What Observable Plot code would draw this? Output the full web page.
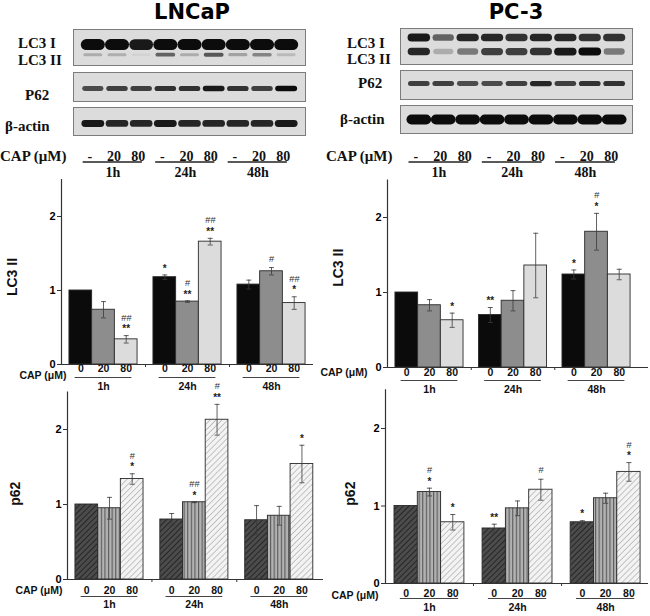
<!DOCTYPE html>
<html><head><meta charset="utf-8">
<script src="https://cdn.jsdelivr.net/npm/d3@7"></script>
<script src="https://cdn.jsdelivr.net/npm/@observablehq/plot@0.6"></script>
<style>
body{margin:0;background:#fff;}
#root{position:relative;width:650px;height:616px;overflow:hidden;background:#fff;}
.lab{position:absolute;white-space:nowrap;transform:translateY(-50%);line-height:1;}
.title{font-family:"DejaVu Sans",Verdana,sans-serif;font-weight:bold;font-size:21px;transform:translate(-50%,-50%);}
.blab{font-family:"Liberation Serif","Times New Roman",serif;font-weight:bold;font-size:15px;color:#111;}
</style></head><body><div id="root"></div>
<script>
// ---------- data ----------
const times = ["1h", "24h", "48h"];
const doses = ["0", "20", "80"];
const blotDoses = ["-", "20", "80"];
const yTicks = [0, 1, 2];

// LNCaP LC3 II (relative)
const lncapLC3Mean = [[1.00, 0.74, 0.34], [1.18, 0.85, 1.66], [1.08, 1.26, 0.83]];
const lncapLC3Err  = [[0, 0.11, 0.05], [0.03, 0.01, 0.045], [0.06, 0.05, 0.085]];
const lncapLC3Star = [["", "", "**"], ["*", "**", "**"], ["", "", "*"]];
const lncapLC3Hash = [["", "", "##"], ["", "#", "##"], ["", "#", "##"]];

// PC-3 LC3 II
const pc3LC3Mean = [[1.00, 0.83, 0.63], [0.70, 0.89, 1.36], [1.24, 1.81, 1.24]];
const pc3LC3Err  = [[0, 0.075, 0.095], [0.10, 0.135, 0.43], [0.06, 0.245, 0.07]];
const pc3LC3Star = [["", "", "*"], ["**", "", ""], ["*", "*", ""]];
const pc3LC3Hash = [["", "", ""], ["", "", ""], ["", "#", ""]];

// LNCaP p62
const lncapP62Mean = [[1.00, 0.95, 1.34], [0.80, 1.03, 2.13], [0.79, 0.85, 1.54]];
const lncapP62Err  = [[0, 0.145, 0.07], [0.08, 0.005, 0.205], [0.195, 0.125, 0.25]];
const lncapP62Star = [["", "", "*"], ["", "*", "**"], ["", "", "*"]];
const lncapP62Hash = [["", "", "#"], ["", "##", "#"], ["", "", ""]];

// PC-3 p62
const pc3P62Mean = [[1.00, 1.18, 0.79], [0.71, 0.97, 1.21], [0.79, 1.10, 1.44]];
const pc3P62Err  = [[0, 0.05, 0.10], [0.055, 0.095, 0.135], [0.02, 0.065, 0.12]];
const pc3P62Star = [["", "*", "*"], ["**", "", ""], ["*", "", "*"]];
const pc3P62Hash = [["", "#", ""], ["", "", "#"], ["", "", "#"]];

// Western blot band intensities (9 lanes: 1h -,20,80 | 24h | 48h)
const lncapLC3I  = [1, 1, 0.95, 1, 1, 1, 1, 1, 1];
const lncapLC3II = [0.3, 0.28, 0.05, 0.65, 0.3, 0.7, 0.35, 0.5, 0.22];
const lncapP62   = [0.75, 0.8, 0.8, 0.85, 0.85, 0.95, 0.85, 0.8, 1.0];
const lncapActin = [0.95, 0.9, 0.9, 0.95, 0.9, 0.9, 0.9, 0.9, 0.95];
const pc3LC3I    = [0.95, 0.65, 0.9, 0.9, 0.85, 0.9, 0.9, 0.85, 0.85];
const pc3LC3II   = [0.9, 0.3, 0.55, 0.8, 0.8, 0.85, 0.95, 1.0, 0.55];
const pc3P62     = [0.8, 0.8, 0.75, 0.75, 0.8, 0.9, 0.8, 0.85, 0.85];
const pc3Actin   = [1, 1, 1, 1, 1, 1, 1, 1, 1];

// ---------- helpers ----------
const root = document.getElementById("root");
function place(el, left, top) {
  el.style.position = "absolute";
  el.style.left = left + "px";
  el.style.top = top + "px";
  root.appendChild(el);
}
function label(text, x, y, cls) {
  const d = document.createElement("div");
  d.className = "lab " + cls;
  d.textContent = text;
  d.style.left = x + "px";
  d.style.top = y + "px";
  root.appendChild(d);
}
const shadeBase = d3.interpolateRgb("#d6d6d6", "#0c0c0c");
const shade = v => shadeBase(Math.pow(v, 1.3));

function blotBox(left, top, w, h, xDomain, bands) {
  const data = bands.flatMap(b => b.vals.map((v, i) => ({lane: i + 1, y: b.pos, v, t: b.thick * (0.55 + 0.45 * v), half: b.half})));
  const svg = Plot.plot({
    width: w, height: h, margin: 0,
    style: {background: "transparent", overflow: "visible"},
    x: {domain: xDomain, axis: null},
    y: {domain: [0, 1], range: [0, h], axis: null},
    color: {type: "identity"},
    marks: [
      Plot.frame({fill: "#dcdcdc", stroke: "#7c7c7c", strokeWidth: 1}),
      Plot.link(data, {x1: d => d.lane - d.half, x2: d => d.lane + d.half, y1: "y", y2: "y",
        stroke: d => shade(d.v), strokeWidth: "t", strokeLinecap: "round"})
    ]
  });
  place(svg, left, top);
}

function blotRow(left, top, w, xDomain) {
  const lanes = times.flatMap((t, g) => blotDoses.map((d, i) => ({lane: 3 * g + i + 1, label: d})));
  const groups = times.map((t, g) => ({t, a: 3 * g + 0.6, b: 3 * g + 3.05}));
  const svg = Plot.plot({
    width: w, height: 32, margin: 0,
    style: {background: "transparent", overflow: "visible", fontFamily: "'Liberation Serif', 'Times New Roman', serif", fontWeight: "bold", fontSize: "14px"},
    x: {domain: xDomain, axis: null},
    y: {domain: [0, 1], range: [0, 32], axis: null},
    marks: [
      Plot.text(lanes, {x: "lane", y: () => 0, text: "label", dy: 8, dx: -3, lineAnchor: "middle", fontSize: 14, fontWeight: "bold", fill: "#111"}),
      Plot.ruleY(groups, {x1: "a", x2: "b", y: () => 0, dy: 13.5, stroke: "#222", strokeWidth: 1.3}),
      Plot.text(groups, {x: d => (d.a + d.b) / 2, y: () => 0, text: "t", dy: 24, lineAnchor: "middle", fontSize: 14, fontWeight: "bold", fill: "#111"})
    ]
  });
  place(svg, left, top);
}

function patternDefs(id) {
  return `<defs>
  <pattern id="p0${id}" patternUnits="userSpaceOnUse" width="4" height="4" patternTransform="rotate(45)"><rect width="4" height="4" fill="#4c4c4c"/><line x1="0" y1="0" x2="0" y2="4" stroke="#1c1c1c" stroke-width="1.6"/></pattern>
  <pattern id="p1${id}" patternUnits="userSpaceOnUse" width="3.6" height="4"><rect width="3.6" height="4" fill="#b2b2b2"/><line x1="0.6" y1="0" x2="0.6" y2="4" stroke="#505050" stroke-width="1"/></pattern>
  <pattern id="p2${id}" patternUnits="userSpaceOnUse" width="4.2" height="4.2" patternTransform="rotate(45)"><rect width="4.2" height="4.2" fill="#f3f3f3"/><line x1="0" y1="0" x2="0" y2="4.2" stroke="#888" stroke-width="0.9"/></pattern>
  </defs>`;
}

function barChart(c) {
  const rows = [];
  times.forEach((t, g) => doses.forEach((d, i) => {
    const x1 = g * c.step + i, m = c.mean[g][i], e = c.err[g][i];
    rows.push({t, d, i, x1, x2: x1 + 1, xc: x1 + 0.5, m, e, lo: m - e, hi: m + e, star: c.star[g][i], hash: c.hash[g][i]});
  }));
  const groups = times.map((t, g) => ({t, a: g * c.step + 0.25, b: g * c.step + 2.75, c: g * c.step + 1.5}));
  const bounds = [0, 1].map(g => g * c.step + 3 + (c.step - 3) / 2);
  const errRows = rows.filter(r => r.e > 0);
  const fills = c.patterned ? [0, 1, 2].map(i => `url(#p${i}${c.id})`) : c.fills;
  const txt = {fontSize: 10.5, fontWeight: "bold", fill: "#111", lineAnchor: "middle"};
  const svg = Plot.plot({
    width: c.width, height: c.height,
    marginLeft: c.ml, marginRight: c.mr, marginTop: c.mt, marginBottom: c.mb,
    style: {background: "transparent", overflow: "visible", fontFamily: "Arial, 'Liberation Sans', sans-serif", fontWeight: "bold", fontSize: "11px"},
    x: {domain: c.xDomain, label: null},
    y: {domain: [0, 2.5], label: null},
    marks: [
      ...[0, 1, 2].map(i => Plot.rect(rows.filter(r => r.i === i), {x1: "x1", x2: "x2", y1: () => 0, y2: "m", fill: fills[i], stroke: "#2a2a2a", strokeWidth: 0.9})),
      Plot.ruleX(errRows, {x: "xc", y1: "lo", y2: "hi", stroke: "#3a3a3a", strokeWidth: 0.8}),
      Plot.link(errRows, {x1: d => d.xc - 0.11, x2: d => d.xc + 0.11, y1: "hi", y2: "hi", stroke: "#3a3a3a", strokeWidth: 0.8}),
      Plot.link(errRows, {x1: d => d.xc - 0.11, x2: d => d.xc + 0.11, y1: "lo", y2: "lo", stroke: "#3a3a3a", strokeWidth: 0.8}),
      Plot.ruleY([0], {stroke: "#333", strokeWidth: 1.2}),
      Plot.ruleX([c.xDomain[0]], {stroke: "#333", strokeWidth: 1.2}),
      Plot.axisY({ticks: yTicks, tickFormat: d => String(d), tickSize: 4, tickPadding: 2, fontSize: 11, fontWeight: "bold", stroke: "#333"}),
      Plot.axisX({ticks: bounds, tickSize: 3, tickFormat: () => "", stroke: "#333"}),
      Plot.text(rows.filter(r => r.star), {x: "xc", y: "hi", text: "star", dy: -6.5, fontSize: 10, fontWeight: "bold", fill: "#222"}),
      Plot.text(rows.filter(r => r.hash && r.star), {x: "xc", y: "hi", text: "hash", dy: -18, fontSize: 9.5, fontWeight: "normal", fontStyle: "italic", fill: "#333"}),
      Plot.text(rows.filter(r => r.hash && !r.star), {x: "xc", y: "hi", text: "hash", dy: -9, fontSize: 9.5, fontWeight: "normal", fontStyle: "italic", fill: "#333"}),
      Plot.text(rows, {x: "xc", text: "d", frameAnchor: "bottom", dy: c.labDy, ...txt}),
      Plot.ruleY(groups, {x1: "a", x2: "b", y: () => 0, dy: c.ulDy, stroke: "#444", strokeWidth: 1.1}),
      Plot.text(groups, {x: "c", text: "t", frameAnchor: "bottom", dy: c.grpDy, ...txt}),
      Plot.text(["CAP (\u03bcM)"], {frameAnchor: "bottom-left", dx: c.capDx, dy: c.capDy, textAnchor: "end", ...txt}),
      Plot.text([c.ylabel], {frameAnchor: "left", rotate: -90, dx: c.ylDx, dy: c.ylDy, textAnchor: "middle", lineAnchor: "middle", fontSize: 14, fontWeight: "bold", fill: "#111"})
    ]
  });
  if (c.patterned) svg.insertAdjacentHTML("afterbegin", patternDefs(c.id));
  place(svg, c.left, c.top);
}

// ---------- blots ----------
label("LNCaP", 192, 12, "title");
label("PC-3", 516, 12, "title");

const lnDom = [0.2, 9.8], pcDom = [0.25, 9.75];
blotBox(73, 29, 232, 36, lnDom, [{pos: 0.42, vals: lncapLC3I, thick: 11, half: 0.27}, {pos: 0.70, vals: lncapLC3II, thick: 4.5, half: 0.33}]);
blotBox(73, 72, 232, 29, lnDom, [{pos: 0.55, vals: lncapP62, thick: 5.5, half: 0.34}]);
blotBox(73, 107, 232, 28, lnDom, [{pos: 0.57, vals: lncapActin, thick: 7, half: 0.33}]);
blotRow(73, 148, 232, lnDom);

blotBox(400, 28, 232, 36, pcDom, [{pos: 0.25, vals: pc3LC3I, thick: 8, half: 0.3}, {pos: 0.64, vals: pc3LC3II, thick: 8, half: 0.3}]);
blotBox(400, 70, 232, 29, pcDom, [{pos: 0.45, vals: pc3P62, thick: 5.5, half: 0.34}]);
blotBox(400, 105, 232, 28, pcDom, [{pos: 0.5, vals: pc3Actin, thick: 10, half: 0.3}]);
blotRow(400, 148, 232, pcDom);

label("LC3 I", 18, 43, "blab");
label("LC3 II", 18, 60, "blab");
label("P62", 25, 95, "blab");
label("\u03b2-actin", 5, 126, "blab");
label("CAP (\u03bcM)", 0, 156, "blab");
label("LC3 I", 347, 43, "blab");
label("LC3 II", 347, 59, "blab");
label("P62", 358, 83, "blab");
label("\u03b2-actin", 340, 119, "blab");
label("CAP (\u03bcM)", 326, 156, "blab");

// ---------- bar charts ----------
barChart({id: "a", left: 0, top: 170, width: 325, height: 225, ml: 61, mr: 12, mt: 9, mb: 31,
  xDomain: [-0.35, 10.75], step: 3.7, mean: lncapLC3Mean, err: lncapLC3Err, star: lncapLC3Star, hash: lncapLC3Hash,
  fills: ["#0b0b0b", "#8d8d8d", "#dcdcdc"], ylabel: "LC3 II", labDy: 4.5, capDy: 11.5, ulDy: 13, grpDy: 22, capDx: 5, ylDx: -49, ylDy: 5});
barChart({id: "b", left: 325, top: 170, width: 325, height: 225, ml: 62, mr: 2, mt: 9.5, mb: 28,
  xDomain: [-0.35, 11.15], step: 3.68, mean: pc3LC3Mean, err: pc3LC3Err, star: pc3LC3Star, hash: pc3LC3Hash,
  fills: ["#0b0b0b", "#8d8d8d", "#dcdcdc"], ylabel: "LC3 II", labDy: 5.5, capDy: 5.5, ulDy: 13, grpDy: 22, capDx: -20, ylDx: -49, ylDy: -6});
barChart({id: "c", left: 0, top: 380, width: 325, height: 236, ml: 67, mr: 2, mt: 11.5, mb: 37,
  xDomain: [-0.35, 10.93], step: 3.74, mean: lncapP62Mean, err: lncapP62Err, star: lncapP62Star, hash: lncapP62Hash,
  patterned: true, ylabel: "p62", labDy: 11.5, capDy: 11.5, ulDy: 17, grpDy: 25.5, capDx: -5, ylDx: -52, ylDy: 8});
barChart({id: "d", left: 325, top: 380, width: 325, height: 236, ml: 60, mr: 2, mt: 9.25, mb: 33,
  xDomain: [-0.386, 10.9], step: 3.78, mean: pc3P62Mean, err: pc3P62Err, star: pc3P62Star, hash: pc3P62Hash,
  patterned: true, ylabel: "p62", labDy: 10, capDy: 12, ulDy: 15, grpDy: 24.5, capDx: -7, ylDx: -35, ylDy: 7});
</script>
</body></html>
